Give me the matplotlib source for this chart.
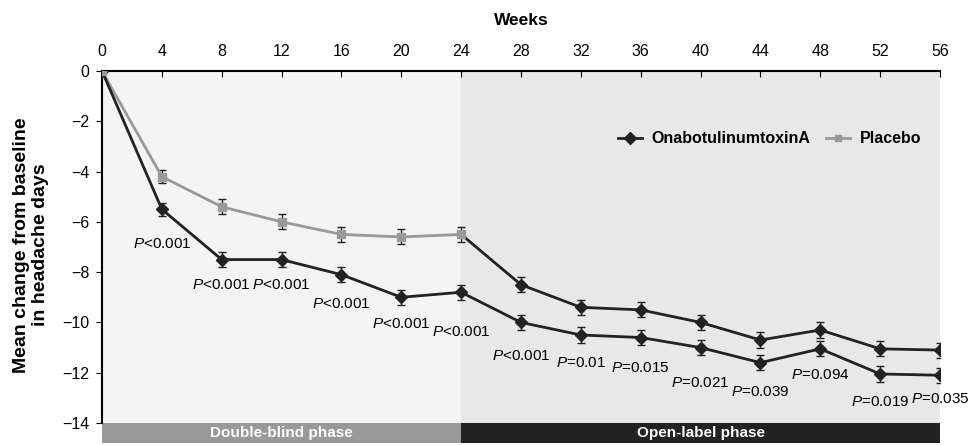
import numpy as np
import matplotlib
matplotlib.use('Agg')
import matplotlib.pyplot as plt

plt.rcParams['font.family'] = ['Liberation Sans', 'DejaVu Sans']
plt.rcParams['mathtext.fontset'] = 'custom'
plt.rcParams['mathtext.it'] = 'Liberation Sans:italic'
plt.rcParams['mathtext.rm'] = 'Liberation Sans'

# data
weeks = [0, 4, 8, 12, 16, 20, 24, 28, 32, 36, 40, 44, 48, 52, 56]
onabot = [0, -5.5, -7.5, -7.5, -8.1, -9.0, -8.8, -10.0, -10.5, -10.6, -11.0, -11.6, -11.05, -12.05, -12.1]
placebo = [0, -4.2, -5.4, -6.0, -6.5, -6.6, -6.5, -8.5, -9.4, -9.5, -10.0, -10.7, -10.3, -11.05, -11.1]
onabot_err = [0, 0.25, 0.3, 0.3, 0.3, 0.3, 0.3, 0.3, 0.3, 0.3, 0.3, 0.3, 0.3, 0.3, 0.3]
placebo_err = [0, 0.25, 0.3, 0.3, 0.3, 0.3, 0.3, 0.3, 0.3, 0.3, 0.3, 0.3, 0.3, 0.3, 0.3]
pvals = ['<0.001', '<0.001', '<0.001', '<0.001', '<0.001', '<0.001',
         '<0.001', '=0.01', '=0.015', '=0.021', '=0.039', '=0.094', '=0.019', '=0.035']
p_offset = [1.4, 1.0, 1.0, 1.15, 1.05, 1.6, 1.35, 1.1, 1.2, 1.4, 1.15, 1.05, 1.1, 0.95]
phases = ['Double-blind phase', 'Open-label phase']
phase_span = [(0, 24), (24, 56)]

dark = '#222222'
grey = '#999999'

fig = plt.figure(figsize=(9.74, 4.45), dpi=100)
ax = fig.add_axes([102/974, 1-423/445, 838/974, 352/445])

# shaded phase backgrounds
ax.axvspan(0, 24, color='#f4f4f4', zorder=0)
ax.axvspan(24, 56, color='#e8e8e8', zorder=0)

w = np.array(weeks)
on = np.array(onabot)
pl = np.array(placebo)

# placebo: grey during double-blind, switches to drug afterwards
ax.errorbar(w[7:], pl[7:], yerr=placebo_err[7:], fmt='none', ecolor=dark, elinewidth=1, capsize=3, zorder=2)
ax.plot(w[6:], pl[6:], color=dark, lw=2, zorder=2)
ax.plot(w[7:], pl[7:], 'D', color=dark, ms=6, zorder=3)
ax.errorbar(w[1:7], pl[1:7], yerr=placebo_err[1:7], fmt='none', ecolor=dark, elinewidth=1, capsize=3, zorder=2)
ax.plot(w[:7], pl[:7], color=grey, lw=2, zorder=2)

ax.errorbar(w[1:], on[1:], yerr=onabot_err[1:], fmt='none', ecolor=dark, elinewidth=1, capsize=3, zorder=2)
ax.plot(w, on, '-D', color=dark, lw=2, ms=6, zorder=3, label='OnabotulinumtoxinA')
ax.plot(w[:7], pl[:7], 's', color=grey, ms=6, zorder=4)
ax.plot([], [], '-s', color=grey, lw=2, ms=5, label='Placebo')

for i, p in enumerate(pvals):
    ax.text(w[i + 1], on[i + 1] - p_offset[i], r'$\it{P}$' + p, ha='center', va='center',
            fontsize=11, clip_on=False)

# phase bars under the plot
for (a, b), name, c in zip(phase_span, phases, [grey, dark]):
    ax.broken_barh([(a, b - a)], (-14.8, 0.8), facecolors=c, clip_on=False)
    ax.text((a + b) / 2, -14.4, name, color='white', fontweight='bold', fontsize=11,
            ha='center', va='center')

ax.set_xlim(0, 56)
ax.set_ylim(-14, 0)
ax.set_xticks(weeks)
ax.set_yticks(range(-14, 1, 2))
ax.xaxis.tick_top()
ax.xaxis.set_label_position('top')
ax.tick_params(axis='x', direction='in', length=4, pad=9, labelsize=11.5)
ax.tick_params(axis='y', direction='out', length=4, pad=5, labelsize=11.5)
ax.set_xlabel('Weeks', fontweight='bold', fontsize=12.5, labelpad=13)
ax.spines['bottom'].set_visible(False)
ax.spines['right'].set_visible(False)
ax.spines['left'].set_linewidth(1.5)
ax.spines['top'].set_linewidth(1.5)

fig.text(31/974, 1-245/445, 'Mean change from baseline\nin headache days', rotation=90,
         ha='center', va='center', multialignment='center', fontweight='bold',
         fontsize=14, linespacing=1.15)

leg = ax.legend(loc='upper right', bbox_to_anchor=(0.995, 0.87), ncol=2, frameon=False,
                prop={'weight': 'bold', 'size': 11.5}, handlelength=1.5, columnspacing=1.0,
                handletextpad=0.6)

fig.savefig('out.png', dpi=100)
